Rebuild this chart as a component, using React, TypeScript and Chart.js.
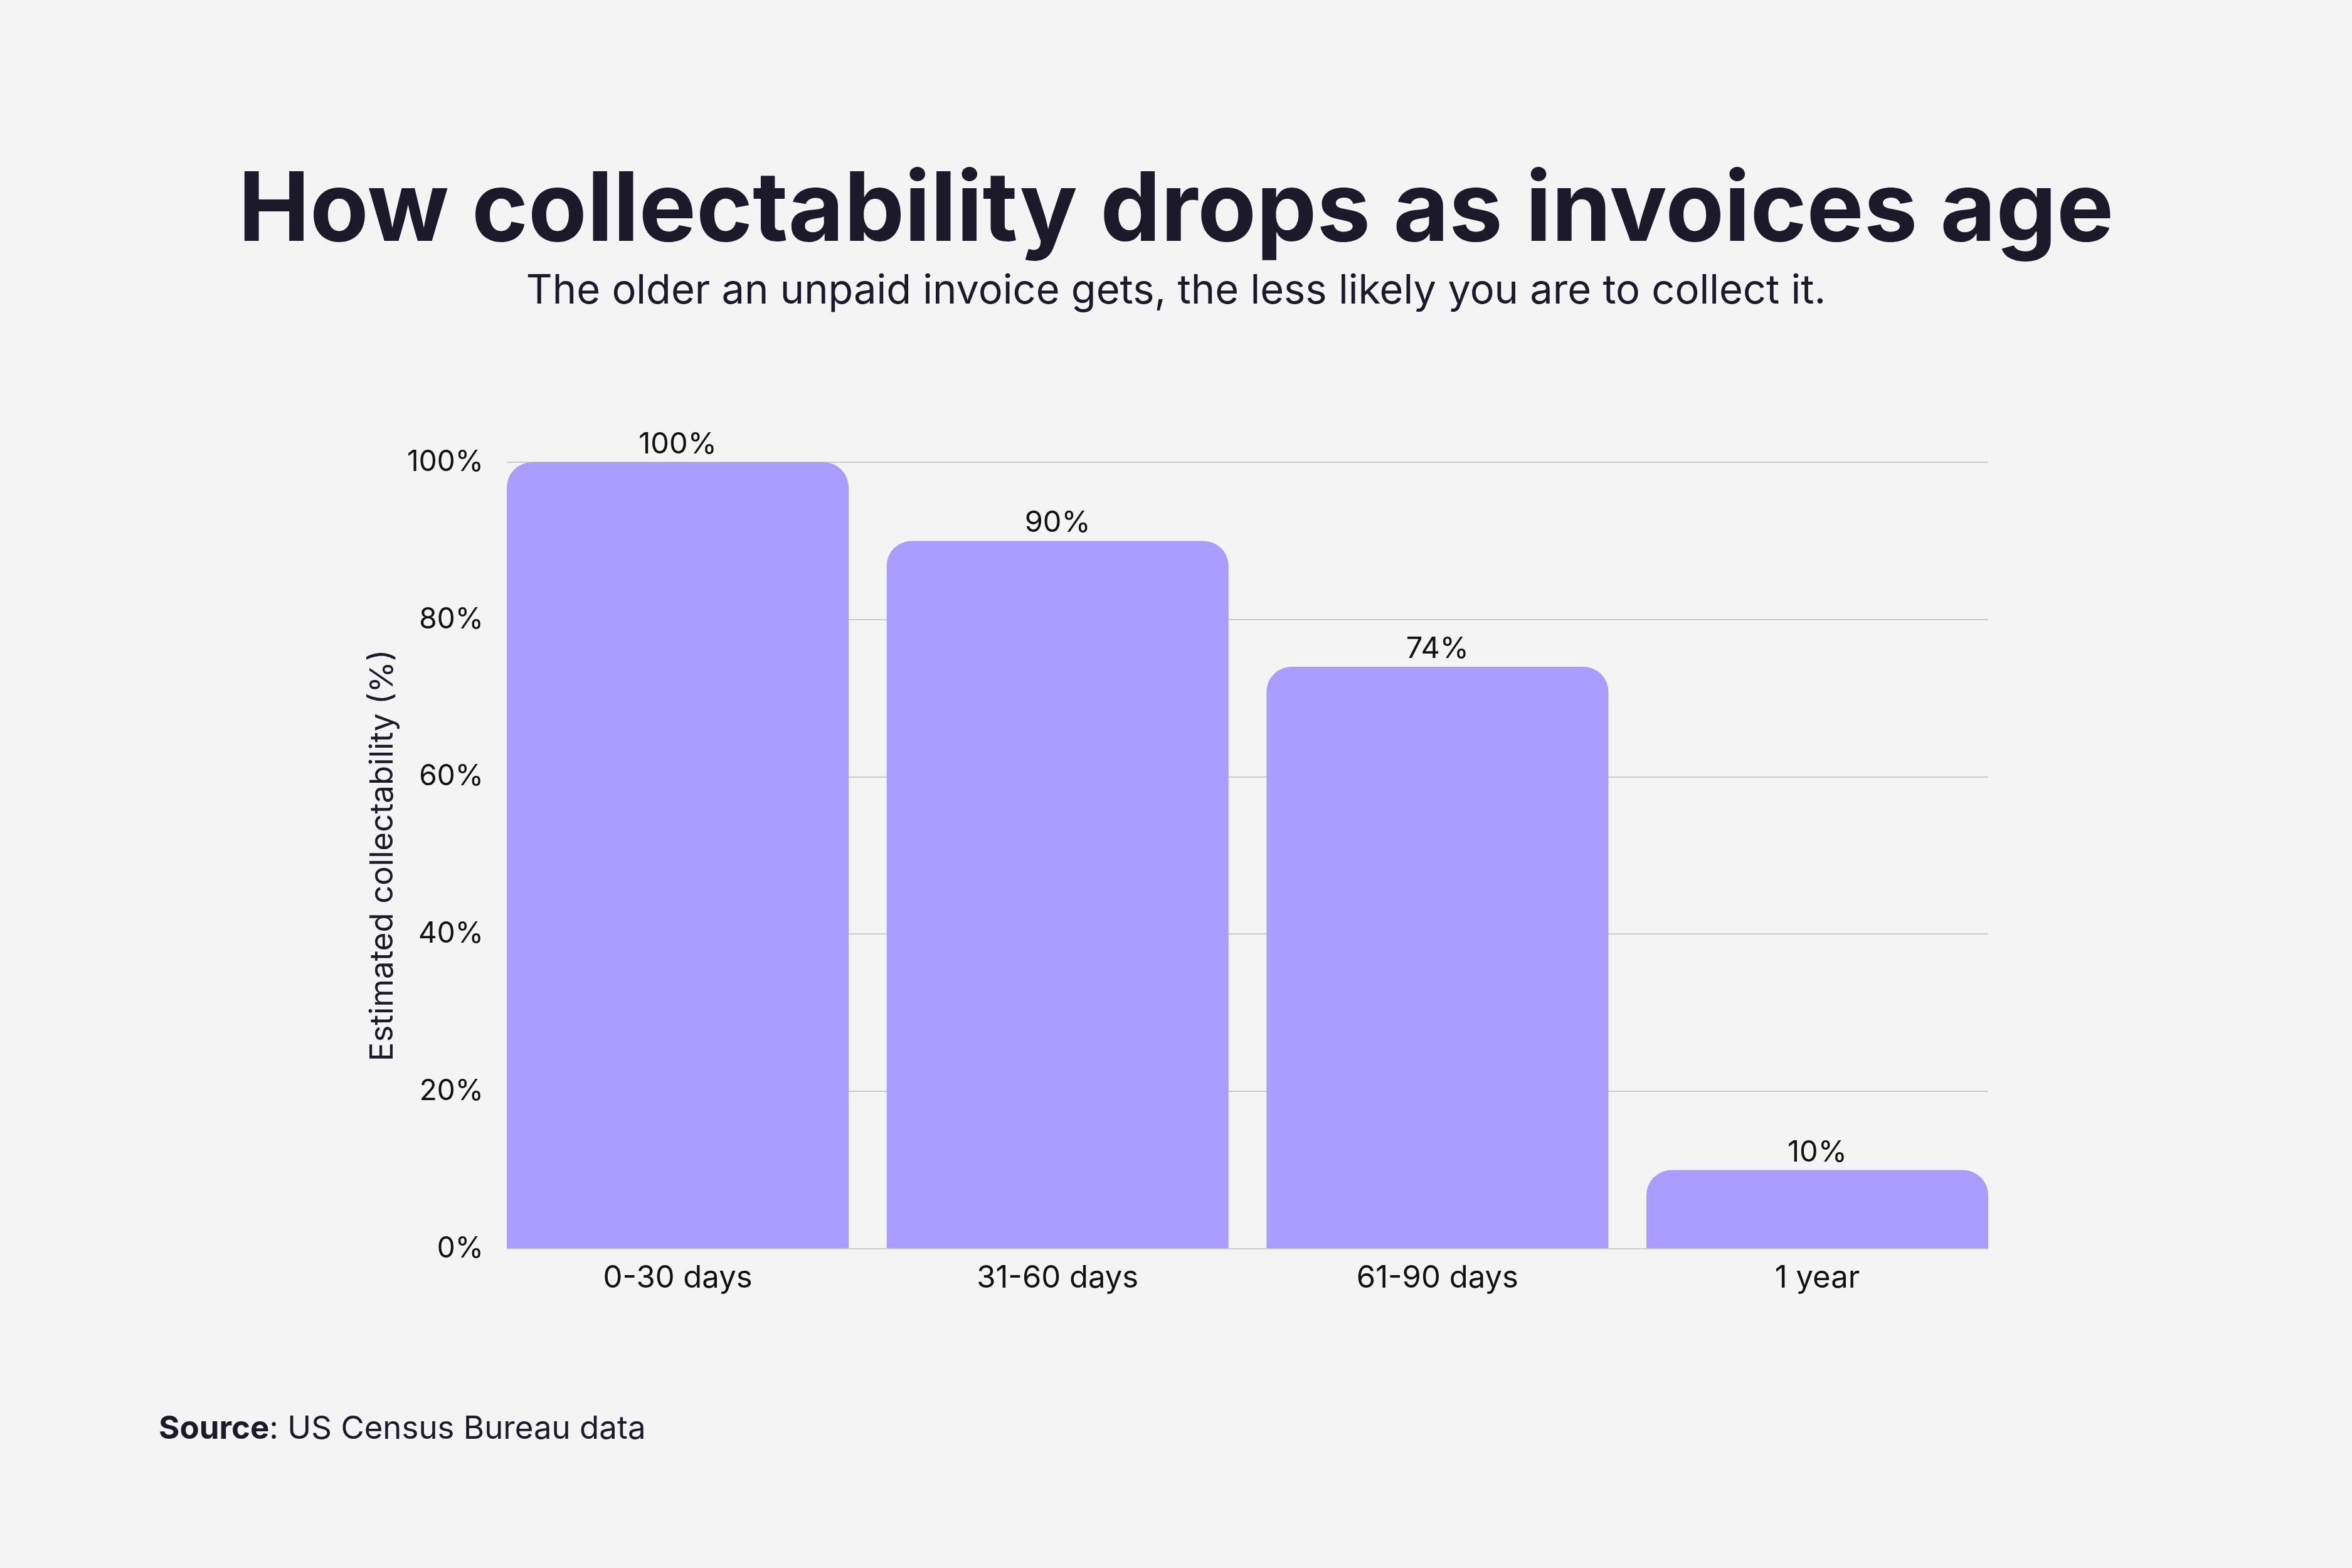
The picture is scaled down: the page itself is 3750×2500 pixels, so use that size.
import React, { useEffect, useRef } from "react";
import { Chart, registerables } from "chart.js";

Chart.register(...registerables);

// Invoice age buckets and how much of each is still collectable
const ageBuckets = ["0-30 days", "31-60 days", "61-90 days", "1 year"];
const collectability = [100, 90, 74, 10];
const yTicks = [0, 20, 40, 60, 80, 100];

const titleText = "How collectability drops as invoices age";
const subtitleText =
  "The older an unpaid invoice gets, the less likely you are to collect it.";
const yAxisTitle = "Estimated collectability (%)";
const sourceLabel = "Source";
const sourceText = ": US Census Bureau data";

const FONT = "Inter";
const INK = "#1c1a2a";
const BAR = "#aa9dff";
const BG = "#f4f4f4";

// Headline and subheading centred over the page
const headline = {
  id: "headline",
  afterDraw(chart: any) {
    const { ctx, width } = chart;
    ctx.save();
    ctx.fillStyle = INK;
    ctx.textAlign = "center";
    ctx.textBaseline = "alphabetic";
    ctx.font = `bold 153px ${FONT}`;
    ctx.fillText(titleText, width / 2, 384);
    ctx.font = `65px ${FONT}`;
    ctx.fillText(subtitleText, width / 2, 484);
    ctx.restore();
  },
};

// Percent label above each bar
const barValueLabels = {
  id: "barValueLabels",
  afterDatasetsDraw(chart: any) {
    const { ctx } = chart;
    const meta = chart.getDatasetMeta(0);
    ctx.save();
    ctx.font = `47px ${FONT}`;
    ctx.fillStyle = "#111111";
    ctx.textAlign = "center";
    ctx.textBaseline = "alphabetic";
    meta.data.forEach((bar: any, i: number) => {
      ctx.fillText(`${collectability[i]}%`, bar.x, bar.y - 14);
    });
    ctx.restore();
  },
};

// Source note in the bottom-left corner
const sourceNote = {
  id: "sourceNote",
  afterDraw(chart: any) {
    const { ctx } = chart;
    ctx.save();
    ctx.fillStyle = INK;
    ctx.textAlign = "left";
    ctx.textBaseline = "alphabetic";
    const x = 253;
    const y = 2294;
    ctx.font = `bold 51px ${FONT}`;
    ctx.fillText(sourceLabel, x, y);
    const w = ctx.measureText(sourceLabel).width;
    ctx.font = `51px ${FONT}`;
    ctx.fillText(sourceText, x + w, y);
    ctx.restore();
  },
};

export default function App() {
  const canvasRef = useRef<HTMLCanvasElement | null>(null);

  useEffect(() => {
    if (!canvasRef.current) return;
    Chart.defaults.font.family = FONT;

    const chart = new Chart(canvasRef.current, {
      type: "bar",
      data: {
        datasets: [
          {
            data: ageBuckets.map((_, i) => ({ x: i, y: collectability[i] })),
            backgroundColor: BAR,
            borderWidth: 0,
            borderRadius: 40,
            categoryPercentage: 1,
            barPercentage: 0.9,
          },
        ],
      },
      options: {
        responsive: false,
        animation: false,
        devicePixelRatio: 1,
        layout: { padding: { top: 737, left: 580, right: 580, bottom: 369 } },
        plugins: {
          legend: { display: false },
          tooltip: { enabled: false },
          title: { display: false },
        },
        scales: {
          x: {
            type: "linear",
            offset: false,
            min: -0.45,
            max: 3.45,
            grid: { display: false, offset: false },
            border: { display: false },
            afterBuildTicks: (scale: any) => {
              scale.ticks = ageBuckets.map((_, i) => ({ value: i }));
            },
            afterFit: (scale: any) => {
              scale.height = 140;
            },
            ticks: {
              color: "#111111",
              font: { family: FONT, size: 49 },
              padding: 10,
              maxRotation: 0,
              autoSkip: false,
              callback: (v: any) => ageBuckets[v] ?? "",
            },
          },
          y: {
            min: 0,
            max: 100,
            grid: { color: "#cccccc", lineWidth: 2, drawTicks: false },
            border: { display: false },
            afterBuildTicks: (scale: any) => {
              scale.ticks = yTicks.map((v) => ({ value: v }));
            },
            afterFit: (scale: any) => {
              scale.width = 228;
            },
            ticks: {
              color: "#111111",
              font: { family: FONT, size: 46 },
              padding: 37,
              callback: (v: any) => `${v}%`,
            },
            title: {
              display: true,
              text: yAxisTitle,
              color: INK,
              font: { family: FONT, size: 51 },
              padding: { top: 0, bottom: 0 },
            },
          },
        },
      },
      plugins: [headline, barValueLabels, sourceNote],
    });

    return () => chart.destroy();
  }, []);

  return (
    <div
      style={{
        position: "absolute",
        left: 0,
        top: 0,
        width: 3750,
        height: 2500,
        background: BG,
      }}
    >
      <canvas
        ref={canvasRef}
        width={3750}
        height={2500}
        style={{ display: "block", width: 3750, height: 2500 }}
      />
    </div>
  );
}
